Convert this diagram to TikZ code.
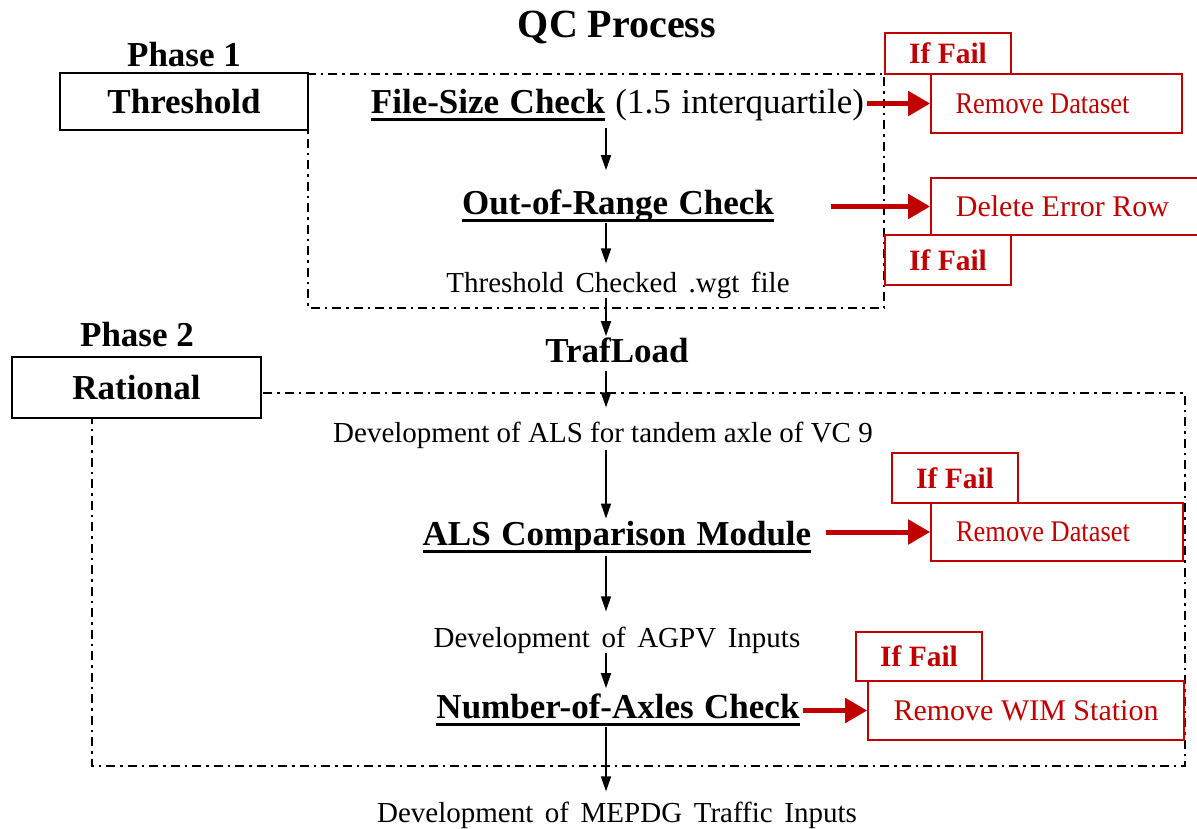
\documentclass[tikz,border=0pt]{standalone}
\usepackage{fontspec}
\setmainfont{Liberation Serif}
\newfontfamily\narrowserif[FakeStretch=0.88]{Liberation Serif}
\usepackage{tikz}
\usetikzlibrary{arrows.meta}
\definecolor{failred}{RGB}{192,0,0}
\newcommand{\ulword}[1]{\setbox0=\hbox{#1}\rlap{\vrule width\wd0 height -5pt depth 7.8pt}\box0\relax}
\newcommand{\widesp}{\spaceskip=.4em plus .1em\relax}
\newcommand{\boldsp}{\spaceskip=.3em plus .1em\relax}
\tikzset{
  txt/.style = {font=\fontsize{29}{33}\selectfont, inner sep=0pt, anchor=base},
  bld/.style = {font=\fontsize{35}{40}\selectfont\bfseries, inner sep=0pt, anchor=base},
  phasebox/.style = {draw, line width=2pt, fill=white, inner sep=0pt, font=\fontsize{35}{40}\selectfont\bfseries},
  failbox/.style = {draw=failred, line width=1.6pt, fill=white, text=failred, inner sep=0pt},
  dashline/.style = {line width=1.8pt, dash pattern=on 9pt off 5pt on 2.5pt off 5pt},
  flow/.style = {-{Triangle[length=15pt,width=10pt]}, line width=1.5pt},
  failarrow/.style = {-{Triangle[length=22pt,width=24pt]}, line width=5pt, failred}
}
\begin{document}
\begin{tikzpicture}[x=1pt, y=-1pt]
\useasboundingbox (0,0) rectangle (1197,828);
\draw[dashline] (308,74) rectangle (884,308);
\draw[dashline] (92,393) rectangle (1185,766);
\coordinate (col) at (606,0);
\node[bld, font=\fontsize{40}{46}\selectfont\bfseries] (qc) at (617,37) {QC Process};
\node[bld] (ph1) at (184,66) {Phase 1};
\node[phasebox, minimum width=248, minimum height=57] (thr) at (184,101.5) {Threshold};
\node[bld] (ph2) at (137,346) {Phase 2};
\node[phasebox, minimum width=249, minimum height=61] (rat) at (136.5,387.5) {Rational};
\node[bld] (fsc) at (617.5,113) {\boldsp\ulword{File-Size Check} {\mdseries(1.5 interquartile)}};
\node[bld] (oor) at (618,214) {\boldsp\ulword{Out-of-Range Check}};
\node[txt] (tcw) at (618,292) {\widesp Threshold Checked .wgt file};
\node[bld] (traf) at (617,362) {TrafLoad};
\node[txt] (dals) at (603,442) {Development of ALS for tandem axle of VC 9};
\node[bld] (alsc) at (617,545) {\boldsp\ulword{ALS Comparison Module}};
\node[txt] (agpv) at (617,647) {\widesp Development of AGPV Inputs};
\node[bld] (nax) at (618,718) {\boldsp\ulword{Number-of-Axles Check}};
\node[txt] (mepdg) at (617,822) {\widesp Development of MEPDG Traffic Inputs};
\node[failbox, minimum width=126, minimum height=41, font=\fontsize{29.5}{34}\selectfont\bfseries] (fail1) at (948,53.5) {If Fail};
\node[failbox, minimum width=251, minimum height=59, font=\fontsize{30}{34}\narrowserif] (rmd1) at (1056.5,103.5) {Remove Dataset\hspace*{28pt}};
\node[failbox, minimum width=269, minimum height=57, font=\fontsize{30}{34}\selectfont] (der) at (1065.5,206.5) {\hspace*{-6pt}Delete Error Row};
\node[failbox, minimum width=126, minimum height=50, font=\fontsize{29.5}{34}\selectfont\bfseries] (fail2) at (948,260) {If Fail};
\node[failbox, minimum width=126, minimum height=50, font=\fontsize{29.5}{34}\selectfont\bfseries] (fail3) at (955,478) {\raisebox{-3pt}{If Fail}};
\node[failbox, minimum width=252, minimum height=58, font=\fontsize{30}{34}\narrowserif] (rmd2) at (1057,532) {Remove Dataset\hspace*{28pt}};
\node[failbox, minimum width=126, minimum height=49, font=\fontsize{29.5}{34}\selectfont\bfseries] (fail4) at (919,656.5) {\raisebox{-2pt}{If Fail}};
\node[failbox, minimum width=316, minimum height=59, font=\fontsize{30}{34}\selectfont] (rwim) at (1026,710.5) {Remove WIM Station};
\draw[flow, shorten <=7pt, shorten >=19pt] (fsc.south -| col) -- (oor.north -| col);
\draw[flow, shorten <=1pt, shorten >=8pt] (oor.south -| col) -- (tcw.north -| col);
\draw[flow, shorten >=1pt] (tcw.south -| col) -- (traf.north -| col);
\draw[flow, shorten <=8pt, shorten >=14pt] (traf.south -| col) -- (dals.north -| col);
\draw[flow, shorten <=2pt, shorten >=2pt] (dals.south -| col) -- (alsc.north -| col);
\draw[flow, shorten <=3pt, shorten >=15pt] (alsc.south -| col) -- (agpv.north -| col);
\draw[flow, shorten >=5pt] (agpv.south -| col) -- (nax.north -| col);
\draw[flow, shorten <=1pt, shorten >=10pt] (nax.south -| col) -- (mepdg.north -| col);
\draw[failarrow, shorten <=3pt] (fsc.east |- rmd1) -- (rmd1.west);
\draw[failarrow, shorten <=57pt] (oor.east |- der) -- (der.west);
\draw[failarrow, shorten <=15pt] (alsc.east |- rmd2) -- (rmd2.west);
\draw[failarrow, shorten <=3pt] (nax.east |- rwim) -- (rwim.west);
\end{tikzpicture}
\end{document}
